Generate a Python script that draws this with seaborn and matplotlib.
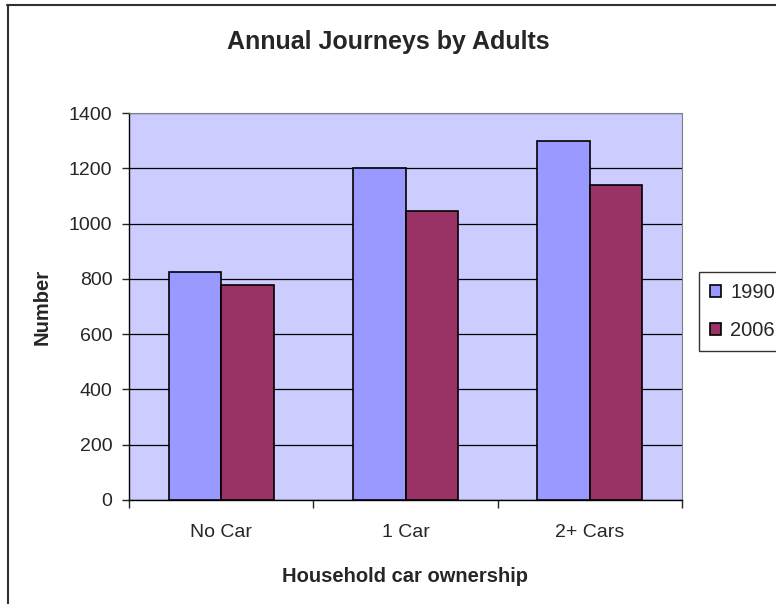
import seaborn as sns
import pandas as pd
import matplotlib.pyplot as plt
from matplotlib.lines import Line2D

categories = ['No Car', '1 Car', '2+ Cars']
years = ['1990', '2006']
vals_1990 = [825, 1200, 1300]
vals_2006 = [777, 1045, 1140]

df = pd.DataFrame({
    'cat': categories * 2,
    'year': [years[0]] * 3 + [years[1]] * 3,
    'val': vals_1990 + vals_2006,
})

sns.set_style('white')
plt.rcParams['font.family'] = ['Liberation Sans', 'DejaVu Sans']

W, H = 776, 604
fig = plt.figure(figsize=(W / 100, H / 100), dpi=100)
ax = fig.add_axes([129 / W, 1 - 500 / H, 553 / W, 387 / H])
ax.set_facecolor('#CCCCFF')

sns.barplot(data=df, x='cat', y='val', hue='year', order=categories,
            palette=['#9999FF', '#993366'], width=0.57, edgecolor='black',
            linewidth=1.2, saturation=1, ax=ax, zorder=3)

ax.set_ylim(0, 1400)
ax.set_xlim(-0.5, 2.5)
ax.set_yticks(range(0, 1401, 200))
ax.yaxis.grid(True, color='black', linewidth=0.9, zorder=0)
ax.set_axisbelow(True)
ax.tick_params(axis='y', labelsize=14, length=5, direction='out', left=True, width=1, pad=7)
ax.set_xticks([0, 1, 2])
ax.set_xticklabels(categories)
ax.tick_params(axis='x', labelsize=14, length=0, pad=17)
ax.set_xticks([-0.5, 0.5, 1.5, 2.5], minor=True)
ax.tick_params(axis='x', which='minor', length=6, bottom=True, width=1)

for s in ['top', 'right']:
    ax.spines[s].set_color('#808080')
for s in ['left', 'bottom']:
    ax.spines[s].set_color('black')
    ax.spines[s].set_linewidth(1)

ax.set_xlabel('Household car ownership', fontsize=14.5, fontweight='bold', labelpad=19)
ax.set_ylabel('Number', fontsize=14.5, fontweight='bold', labelpad=12)
fig.suptitle('Annual Journeys by Adults', fontsize=18, fontweight='bold', y=1 - 30 / H, va='top')

handles, labels = ax.get_legend_handles_labels()
ax.legend_.remove()
leg = fig.legend(handles, labels, loc='upper left', bbox_to_anchor=(699 / W, 1 - 272 / H),
                 fontsize=14.5, frameon=True, fancybox=False, edgecolor='black',
                 handlelength=0.55, handleheight=0.55, handletextpad=0.45, borderpad=0.55,
                 labelspacing=0.95, borderaxespad=0)
leg.get_frame().set_linewidth(1)

# chart-area border (only left and top edges show in the crop)
fig.add_artist(Line2D([7.5 / W, 7.5 / W], [0, 1 - 5 / H], transform=fig.transFigure,
                      color='#303030', linewidth=1.5))
fig.add_artist(Line2D([7 / W, 1], [1 - 5 / H, 1 - 5 / H], transform=fig.transFigure,
                      color='#303030', linewidth=1.5))

fig.savefig('out.png', dpi=100)
